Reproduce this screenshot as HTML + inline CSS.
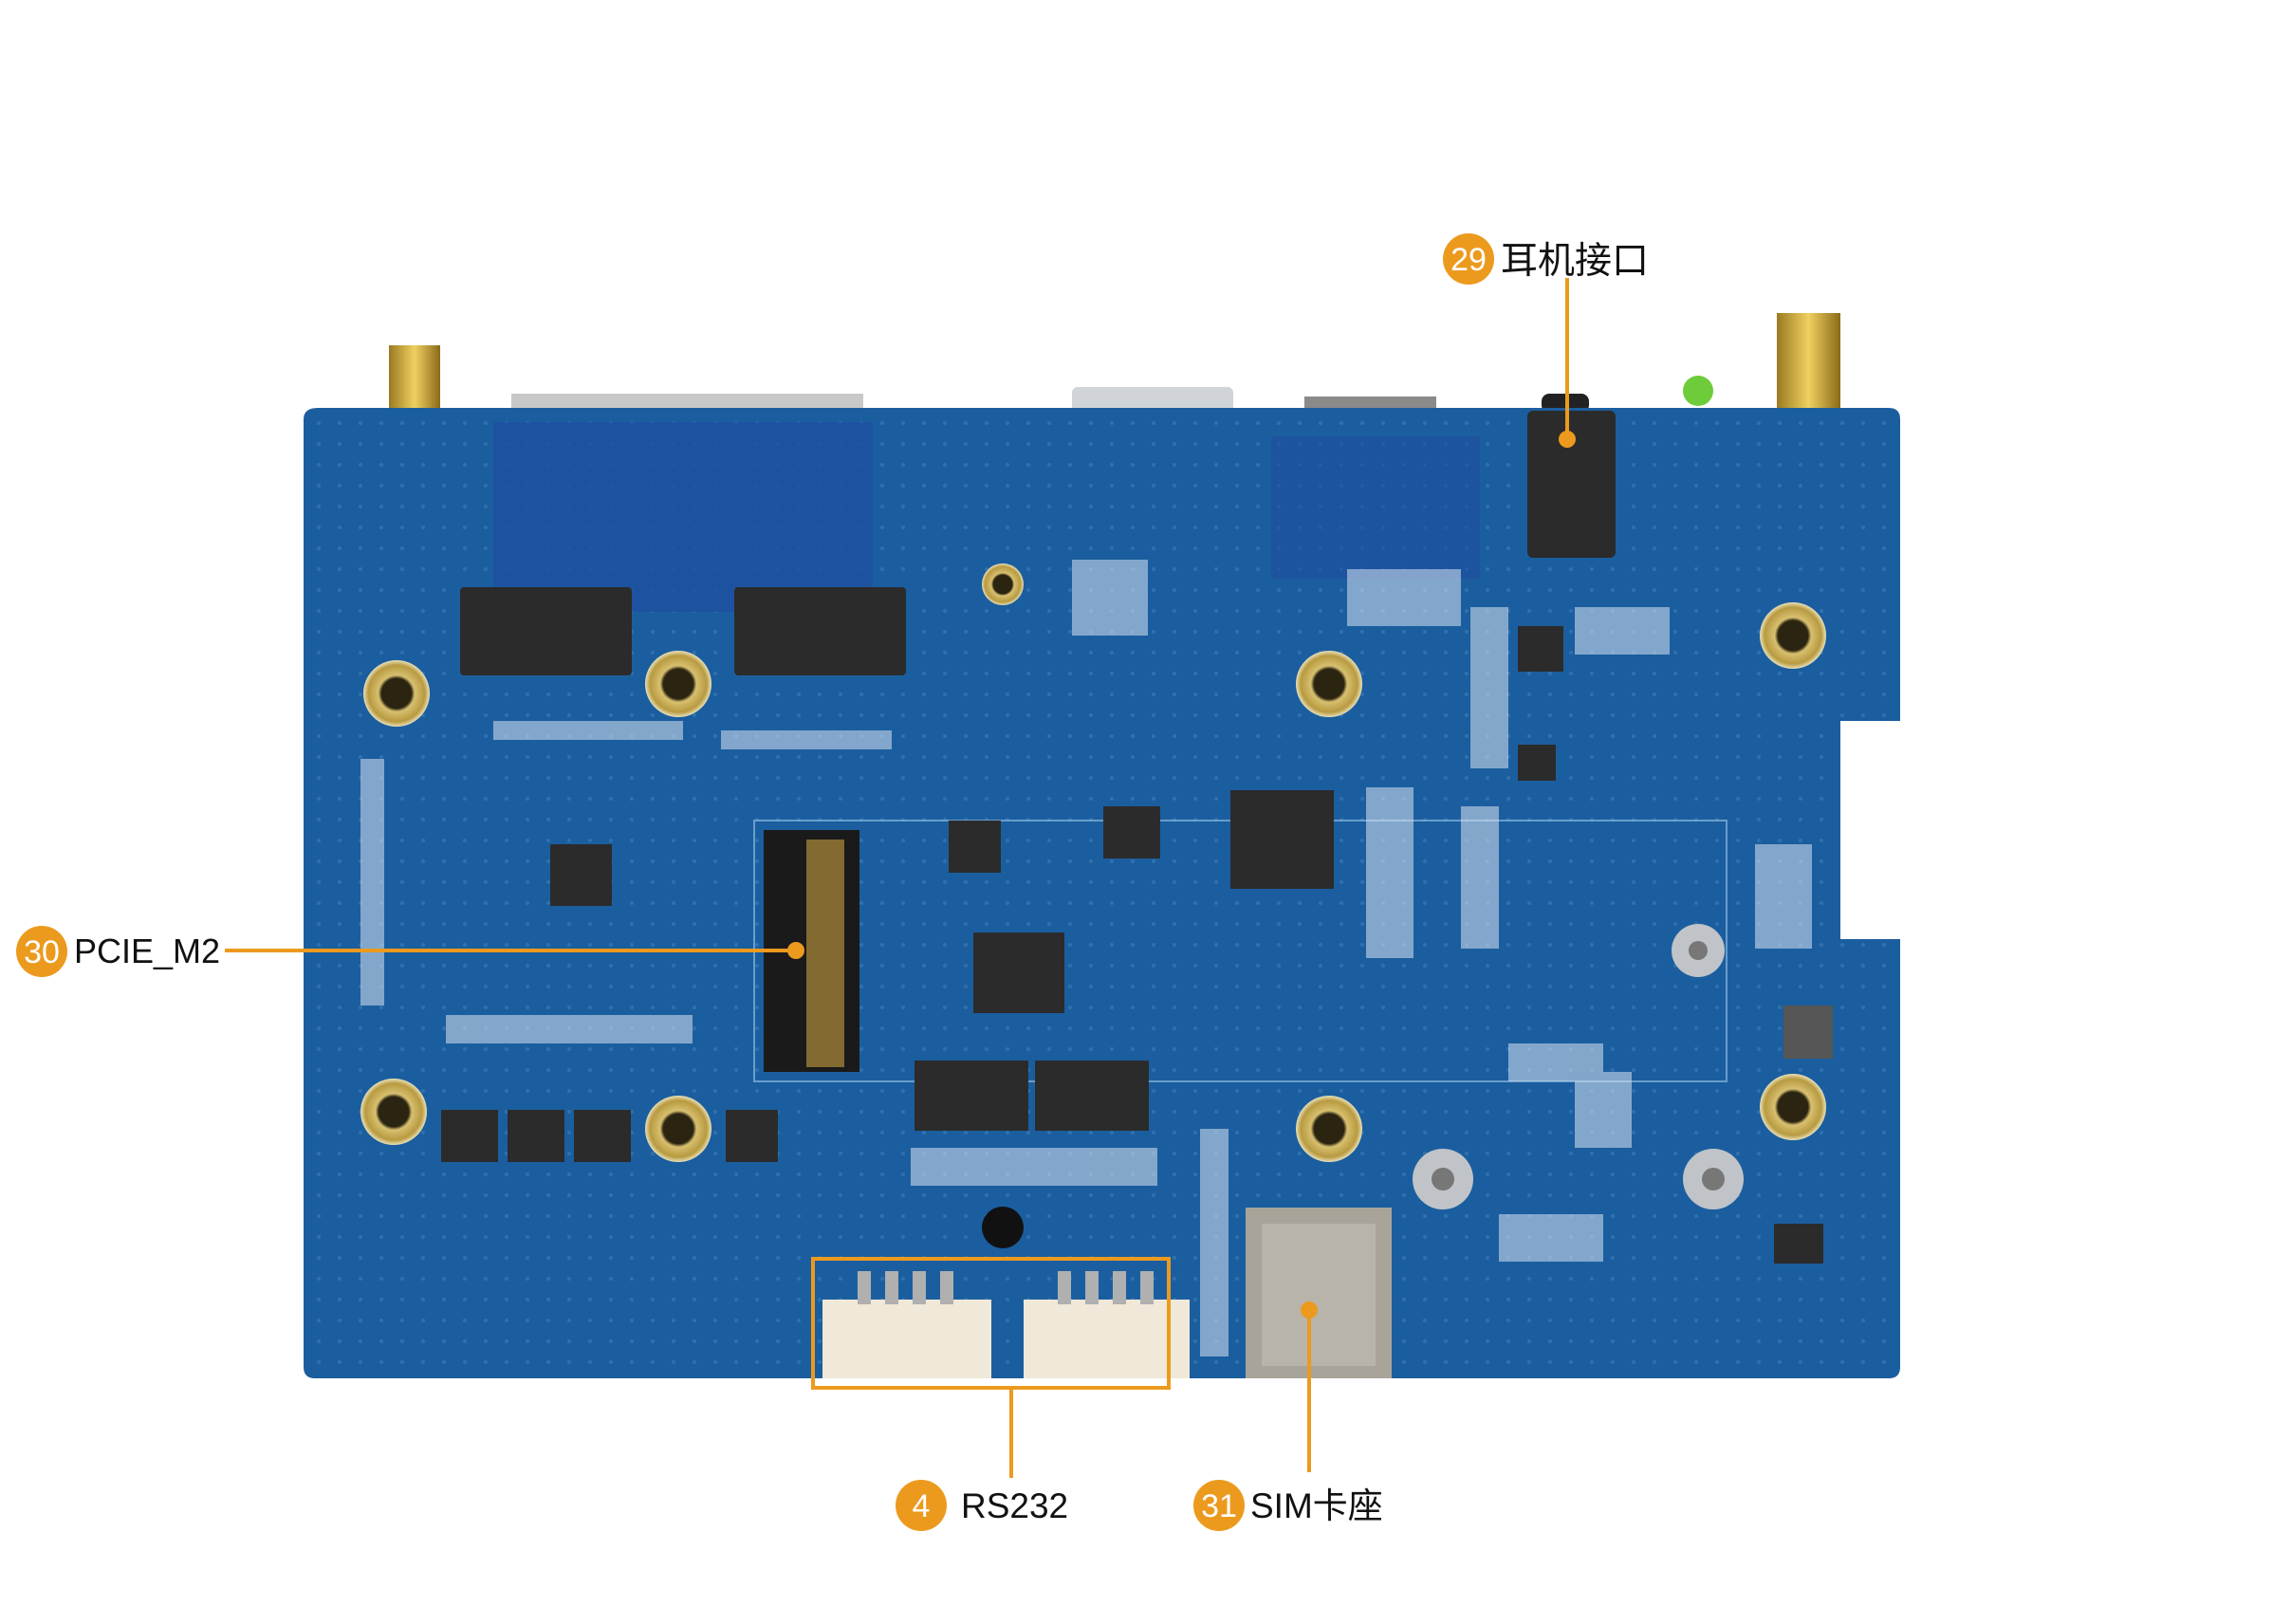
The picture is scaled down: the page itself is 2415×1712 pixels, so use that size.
<!DOCTYPE html>
<html><head><meta charset="utf-8"><style>
html,body{margin:0;padding:0;background:#fff;}
body{width:2415px;height:1712px;overflow:hidden;position:relative;font-family:"Liberation Sans","Noto Sans CJK SC",sans-serif;}
svg{position:absolute;left:0;top:0;}
</style></head><body>
<svg width="2415" height="1712" viewBox="0 0 2415 1712" xmlns="http://www.w3.org/2000/svg">
<defs>
<radialGradient id="gold" cx="50%" cy="50%" r="50%"><stop offset="0.45" stop-color="#2a2410"/><stop offset="0.55" stop-color="#d8c070"/><stop offset="0.85" stop-color="#b89a40"/><stop offset="1" stop-color="#e8e0b8"/></radialGradient>
<linearGradient id="ant" x1="0" x2="1"><stop offset="0" stop-color="#9a7a20"/><stop offset="0.5" stop-color="#f0d060"/><stop offset="1" stop-color="#8a6a18"/></linearGradient>
<pattern id="dots" width="22" height="22" patternUnits="userSpaceOnUse"><rect width="22" height="22" fill="none"/><circle cx="6" cy="6" r="2" fill="#6fa8d8" opacity="0.5"/></pattern>
</defs>
<rect x="410" y="364" width="54" height="70" fill="url(#ant)"/>
<rect x="1873" y="330" width="67" height="100" fill="url(#ant)"/>
<circle cx="1790" cy="412" r="16" fill="#6ecc3a"/>
<rect x="539" y="415" width="371" height="20" fill="#c8c8c8"/>
<rect x="1130" y="408" width="170" height="28" rx="6" fill="#d0d4d8"/>
<rect x="1375" y="418" width="139" height="16" fill="#8a8a8a"/>
<rect x="1625" y="415" width="50" height="20" rx="8" fill="#222"/>
<path d="M335 430 H1991 Q2003 430 2003 442 V760 H1940 V990 H2003 V1441 Q2003 1453 1991 1453 H332 Q320 1453 320 1441 V442 Q320 430 335 430 Z" fill="#1b5e9f"/>
<path d="M335 430 H1991 Q2003 430 2003 442 V760 H1940 V990 H2003 V1441 Q2003 1453 1991 1453 H332 Q320 1453 320 1441 V442 Q320 430 335 430 Z" fill="url(#dots)" opacity="0.5"/>
<rect x="520" y="445" width="400" height="200" fill="#1e4fa0" opacity="0.8"/>
<rect x="1340" y="460" width="220" height="150" fill="#1e4fa0" opacity="0.6"/>
<rect x="795" y="865" width="1025" height="275" fill="none" stroke="#8ab8e0" stroke-width="2" opacity="0.7"/>
<g fill="#2b2b2b">
<rect x="485" y="619" width="181" height="93" rx="4"/>
<rect x="774" y="619" width="181" height="93" rx="4"/>
<rect x="1297" y="833" width="109" height="104"/>
<rect x="1026" y="983" width="96" height="85"/>
<rect x="964" y="1118" width="120" height="74"/>
<rect x="1091" y="1118" width="120" height="74"/>
<rect x="1163" y="850" width="60" height="55"/>
<rect x="1000" y="865" width="55" height="55"/>
<rect x="580" y="890" width="65" height="65"/>
<rect x="1600" y="660" width="48" height="48"/>
<rect x="1600" y="785" width="40" height="38"/>
<rect x="465" y="1170" width="60" height="55"/>
<rect x="535" y="1170" width="60" height="55"/>
<rect x="605" y="1170" width="60" height="55"/>
<rect x="765" y="1170" width="55" height="55"/>
<rect x="1880" y="1060" width="52" height="56" fill="#555"/>
<rect x="1870" y="1290" width="52" height="42"/>
<rect x="1610" y="433" width="93" height="155" rx="6"/>
</g>
<rect x="805" y="875" width="101" height="255" fill="#1a1a1a"/>
<rect x="850" y="885" width="40" height="240" fill="#c8a040" opacity="0.6"/>
<g fill="#d8e4f0" opacity="0.55">
<rect x="520" y="760" width="200" height="20"/><rect x="760" y="770" width="180" height="20"/>
<rect x="1130" y="590" width="80" height="80"/><rect x="1420" y="600" width="120" height="60"/>
<rect x="1550" y="640" width="40" height="170"/><rect x="1660" y="640" width="100" height="50"/>
<rect x="1440" y="830" width="50" height="180"/><rect x="1540" y="850" width="40" height="150"/>
<rect x="1850" y="890" width="60" height="110"/><rect x="380" y="800" width="25" height="260"/>
<rect x="470" y="1070" width="260" height="30"/><rect x="960" y="1210" width="260" height="40"/>
<rect x="1265" y="1190" width="30" height="240"/><rect x="1590" y="1100" width="100" height="40"/>
<rect x="1580" y="1280" width="110" height="50"/><rect x="1660" y="1130" width="60" height="80"/>
</g>
<g>
<circle cx="418" cy="731" r="35" fill="url(#gold)"/>
<circle cx="715" cy="721" r="35" fill="url(#gold)"/>
<circle cx="1401" cy="721" r="35" fill="url(#gold)"/>
<circle cx="1890" cy="670" r="35" fill="url(#gold)"/>
<circle cx="415" cy="1172" r="35" fill="url(#gold)"/>
<circle cx="715" cy="1190" r="35" fill="url(#gold)"/>
<circle cx="1401" cy="1190" r="35" fill="url(#gold)"/>
<circle cx="1890" cy="1167" r="35" fill="url(#gold)"/>
<circle cx="1057" cy="616" r="22" fill="url(#gold)"/>
<circle cx="1057" cy="1294" r="22" fill="#111"/>
<circle cx="1521" cy="1243" r="32" fill="#c0c4c8"/><circle cx="1521" cy="1243" r="12" fill="#777"/>
<circle cx="1806" cy="1243" r="32" fill="#c0c4c8"/><circle cx="1806" cy="1243" r="12" fill="#777"/>
<circle cx="1790" cy="1002" r="28" fill="#c0c4c8"/><circle cx="1790" cy="1002" r="10" fill="#777"/>
</g>
<rect x="1313" y="1273" width="154" height="180" fill="#a8a49a"/>
<rect x="1330" y="1290" width="120" height="150" fill="#b8b4aa"/>
<rect x="867" y="1370" width="178" height="83" fill="#f0e8d8"/>
<rect x="1079" y="1370" width="175" height="83" fill="#f0e8d8"/>
<g fill="#b0b0b0"><rect x="904" y="1340" width="14" height="35"/><rect x="933" y="1340" width="14" height="35"/><rect x="962" y="1340" width="14" height="35"/><rect x="991" y="1340" width="14" height="35"/>
<rect x="1115" y="1340" width="14" height="35"/><rect x="1144" y="1340" width="14" height="35"/><rect x="1173" y="1340" width="14" height="35"/><rect x="1202" y="1340" width="14" height="35"/></g>
<g stroke="#ec9a1e" stroke-width="4" fill="none">
<line x1="1652" y1="293" x2="1652" y2="463"/>
<line x1="237" y1="1002" x2="839" y2="1002"/>
<rect x="857" y="1327" width="375" height="136"/>
<line x1="1066" y1="1463" x2="1066" y2="1558"/>
<line x1="1380" y1="1381" x2="1380" y2="1552"/>
</g>
<g fill="#ec9a1e">
<circle cx="1652" cy="463" r="9"/><circle cx="839" cy="1002" r="9"/><circle cx="1380" cy="1381" r="9"/>
<circle cx="1548" cy="273" r="27"/><circle cx="44" cy="1003" r="27"/>
<circle cx="971" cy="1587" r="27"/><circle cx="1285" cy="1587" r="27"/>
</g>
<g fill="#fff" font-size="34" text-anchor="middle" font-family="Liberation Sans, sans-serif">
<text x="1548" y="285">29</text><text x="44" y="1015">30</text>
<text x="971" y="1599">4</text><text x="1285" y="1599">31</text>
</g>
<g fill="#111" font-size="36" font-family="Liberation Sans, Noto Sans CJK SC, sans-serif">
<text x="1582" y="288" font-size="39">耳机接口</text>
<text x="78" y="1015">PCIE_M2</text>
<text x="1013" y="1600" font-size="37">RS232</text>
<text x="1318" y="1600" font-size="37">SIM卡座</text>
</g>
</svg>
</body></html>
